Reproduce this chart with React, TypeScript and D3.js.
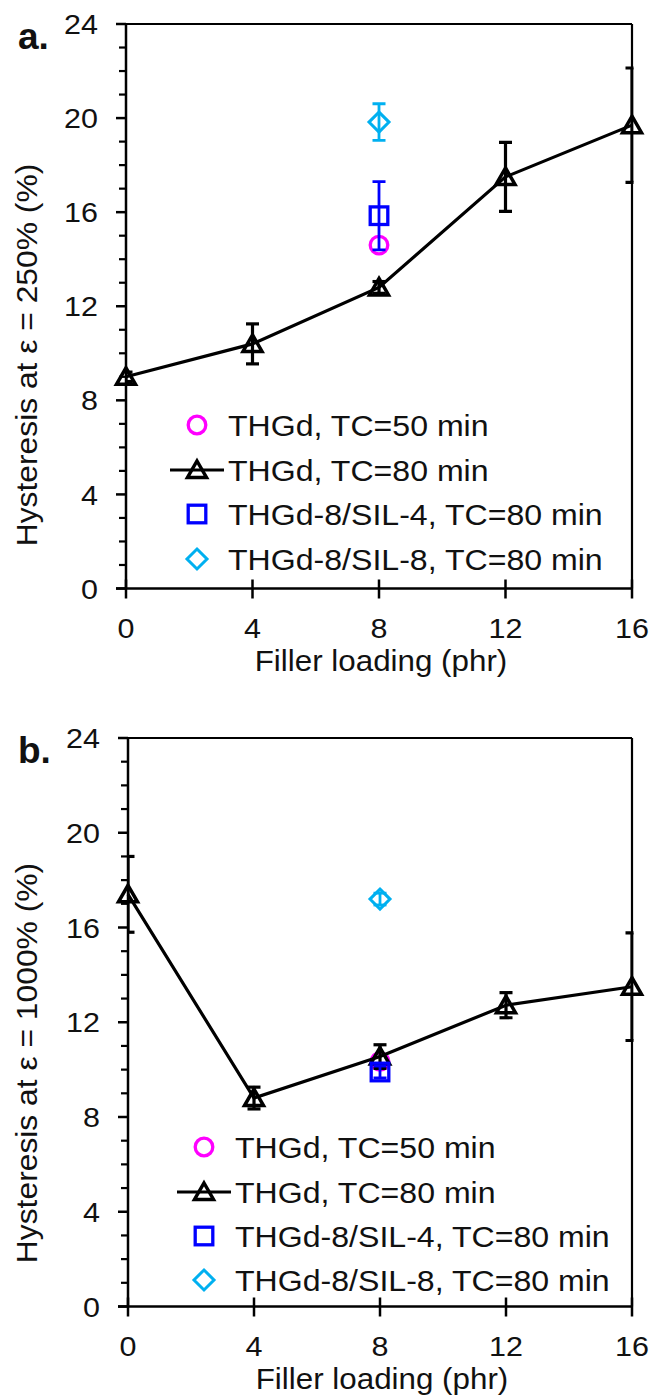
import React from "react";
import * as d3 from "d3";

// Filler loading (phr) on the x axis
const fillerLoading = [0, 4, 8, 12, 16];
const hybridLoading = [8];

// Panel a: hysteresis at strain 250 %
const h250Tc80 = [9.0, 10.4, 12.8, 17.5, 19.7];
const h250Tc80Err = [0.2, 0.85, 0.25, 1.47, 2.43];
const h250Tc50 = [14.6];
const h250Tc50Err = [0];
const h250Sil4 = [15.85];
const h250Sil4Err = [1.45];
const h250Sil8 = [19.83];
const h250Sil8Err = [0.78];

// Panel b: hysteresis at strain 1000 %
const h1000Tc80 = [17.4, 8.8, 10.55, 12.72, 13.5];
const h1000Tc80Err = [1.6, 0.46, 0.5, 0.53, 2.27];
const h1000Tc50 = [10.35];
const h1000Tc50Err = [0];
const h1000Sil4 = [9.9];
const h1000Sil4Err = [0.25];
const h1000Sil8 = [17.2];
const h1000Sil8Err = [0.25];

const xTicks = [0, 4, 8, 12, 16];
const yTicks = [0, 4, 8, 12, 16, 20, 24];
const yMinorTicks = d3.range(0, 25, 1).filter((v) => v % 4 !== 0);

const legendLabels = [
  "THGd, TC=50 min",
  "THGd, TC=80 min",
  "THGd-8/SIL-4, TC=80 min",
  "THGd-8/SIL-8, TC=80 min",
];

const MAGENTA = "#FF00FF";
const BLUE = "#0000FF";
const CYAN = "#00B0F0";
const BLACK = "#000000";
const FONT = "'Liberation Sans', Arial, Helvetica, sans-serif";

type Kind = "circle" | "triangle" | "square" | "diamond";

// Text with a slight horizontal stretch, anchored at (x, y)
function WideText({
  x,
  y,
  size,
  sx,
  anchor,
  rotate = 0,
  dy,
  bold,
  children,
}: {
  x: number;
  y: number;
  size: number;
  sx: number;
  anchor: "start" | "middle" | "end";
  rotate?: number;
  dy?: string;
  bold?: boolean;
  children: React.ReactNode;
}) {
  return (
    <text
      transform={`translate(${x},${y}) rotate(${rotate}) scale(${sx},1)`}
      dy={dy}
      textAnchor={anchor}
      fontFamily={FONT}
      fontSize={size}
      fontWeight={bold ? "bold" : "normal"}
      fill="#111"
    >
      {children}
    </text>
  );
}

function Marker({ kind, x, y, color }: { kind: Kind; x: number; y: number; color: string }) {
  const sw = 3.3;
  if (kind === "circle")
    return <circle cx={x} cy={y} r={8.8} fill="none" stroke={color} strokeWidth={sw} />;
  if (kind === "square")
    return <rect x={x - 8.8} y={y - 8.8} width={17.6} height={17.6} fill="none" stroke={color} strokeWidth={sw} />;
  if (kind === "diamond")
    return (
      <path
        d={`M${x},${y - 10} L${x + 10},${y} L${x},${y + 10} L${x - 10},${y} Z`}
        fill="none"
        stroke={color}
        strokeWidth={3}
      />
    );
  return (
    <path
      d={`M${x},${y - 9} L${x + 9.5},${y + 7.5} L${x - 9.5},${y + 7.5} Z`}
      fill="none"
      stroke={color}
      strokeWidth={3.5}
      strokeLinejoin="miter"
    />
  );
}

type Series = {
  xs: number[];
  ys: number[];
  err: number[];
  kind: Kind;
  color: string;
  line?: boolean;
};

type PanelProps = {
  id: string;
  letter: string;
  left: number;
  right: number;
  top: number;
  bottom: number;
  yLabel: string;
  yLabelCenter: number;
  series: Series[];
  legendMarkerX: number;
  legendTextX: number;
  legendRows: number[];
};

function Panel(p: PanelProps) {
  const x = d3.scaleLinear().domain([0, 16]).range([p.left, p.right]);
  const y = d3.scaleLinear().domain([0, 24]).range([p.bottom, p.top]);
  const line = d3
    .line<number>()
    .x((_, i) => x(fillerLoading[i]))
    .y((d) => y(d));
  const clipId = `clip-${p.id}`;
  const axisW = 2.5;

  return (
    <g>
      <defs>
        <clipPath id={clipId}>
          <rect x={p.left} y={p.top} width={p.right - p.left + 1.5} height={p.bottom - p.top} />
        </clipPath>
      </defs>

      {/* frame */}
      <line x1={p.left} y1={p.top} x2={p.right} y2={p.top} stroke={BLACK} strokeWidth={2.2} />
      <line x1={p.right} y1={p.top} x2={p.right} y2={p.bottom} stroke={BLACK} strokeWidth={2.2} />
      <line x1={p.left} y1={p.top} x2={p.left} y2={p.bottom} stroke={BLACK} strokeWidth={axisW} />
      <line x1={p.left - 10} y1={p.bottom} x2={p.right} y2={p.bottom} stroke={BLACK} strokeWidth={axisW} />

      {/* y ticks */}
      {yTicks.map((t) => (
        <g key={`yt${t}`}>
          <line x1={p.left - 10} x2={p.left} y1={y(t)} y2={y(t)} stroke={BLACK} strokeWidth={axisW} />
          <WideText x={p.left - 28} y={y(t)} dy="0.36em" size={28} sx={1.09} anchor="end">
            {t}
          </WideText>
        </g>
      ))}
      {yMinorTicks.map((t) => (
        <line key={`ym${t}`} x1={p.left - 7} x2={p.left} y1={y(t)} y2={y(t)} stroke={BLACK} strokeWidth={2.2} />
      ))}

      {/* x ticks */}
      {xTicks.map((t) => (
        <g key={`xt${t}`}>
          <line x1={x(t)} x2={x(t)} y1={p.bottom - 9} y2={p.bottom + 10} stroke={BLACK} strokeWidth={axisW} />
          <WideText x={x(t)} y={p.bottom + 49} size={28} sx={1.09} anchor="middle">
            {t}
          </WideText>
        </g>
      ))}

      <WideText x={(p.left + p.right) / 2 + 2} y={p.bottom + 82} size={30} sx={1.045} anchor="middle">
        Filler loading (phr)
      </WideText>

      <WideText x={37} y={p.yLabelCenter} size={30} sx={1.06} anchor="middle" rotate={-90}>
        {p.yLabel}
      </WideText>

      <WideText x={18} y={p.top + 25} size={37} sx={1} anchor="start" bold>
        {p.letter}
      </WideText>

      {/* series */}
      {p.series.map((s, si) => (
        <g key={`s${si}`}>
          <g clipPath={`url(#${clipId})`}>
            {s.xs.map((xv, i) =>
              s.err[i] > 0 ? (
                <g key={`e${i}`} stroke={s.color} strokeWidth={s.line ? 3.2 : 2.8}>
                  <line x1={x(xv)} x2={x(xv)} y1={y(s.ys[i] - s.err[i])} y2={y(s.ys[i] + s.err[i])} />
                  <line x1={x(xv) - 6.5} x2={x(xv) + 6.5} y1={y(s.ys[i] + s.err[i])} y2={y(s.ys[i] + s.err[i])} />
                  <line x1={x(xv) - 6.5} x2={x(xv) + 6.5} y1={y(s.ys[i] - s.err[i])} y2={y(s.ys[i] - s.err[i])} />
                </g>
              ) : null
            )}
          </g>
          {s.line ? (
            <path d={line(s.ys) ?? ""} fill="none" stroke={s.color} strokeWidth={3.2} />
          ) : null}
          {s.xs.map((xv, i) => (
            <Marker key={`m${i}`} kind={s.kind} x={x(xv)} y={y(s.ys[i])} color={s.color} />
          ))}
        </g>
      ))}

      {/* legend */}
      {legendLabels.map((label, i) => {
        const s = p.series[i];
        const ry = p.legendRows[i];
        return (
          <g key={`lg${i}`}>
            {s.line ? (
              <line
                x1={p.legendMarkerX - 27}
                x2={p.legendMarkerX + 27}
                y1={ry}
                y2={ry}
                stroke={s.color}
                strokeWidth={3.2}
              />
            ) : null}
            <Marker kind={s.kind} x={p.legendMarkerX} y={ry} color={s.color} />
            <WideText x={p.legendTextX} y={ry} dy="0.36em" size={30} sx={1.07} anchor="start">
              {label}
            </WideText>
          </g>
        );
      })}
    </g>
  );
}

export default function App() {
  const seriesA: Series[] = [
    { xs: hybridLoading, ys: h250Tc50, err: h250Tc50Err, kind: "circle", color: MAGENTA },
    { xs: fillerLoading, ys: h250Tc80, err: h250Tc80Err, kind: "triangle", color: BLACK, line: true },
    { xs: hybridLoading, ys: h250Sil4, err: h250Sil4Err, kind: "square", color: BLUE },
    { xs: hybridLoading, ys: h250Sil8, err: h250Sil8Err, kind: "diamond", color: CYAN },
  ];
  const seriesB: Series[] = [
    { xs: hybridLoading, ys: h1000Tc50, err: h1000Tc50Err, kind: "circle", color: MAGENTA },
    { xs: fillerLoading, ys: h1000Tc80, err: h1000Tc80Err, kind: "triangle", color: BLACK, line: true },
    { xs: hybridLoading, ys: h1000Sil4, err: h1000Sil4Err, kind: "square", color: BLUE },
    { xs: hybridLoading, ys: h1000Sil8, err: h1000Sil8Err, kind: "diamond", color: CYAN },
  ];

  return (
    <svg
      width={652}
      height={1397}
      viewBox="0 0 652 1397"
      style={{ position: "absolute", left: 0, top: 0, background: "#fff" }}
    >
      <rect width={652} height={1397} fill="#fff" />
      <Panel
        id="a"
        letter="a."
        left={126}
        right={632}
        top={24}
        bottom={588.5}
        yLabel="Hysteresis at ε = 250% (%)"
        yLabelCenter={355}
        series={seriesA}
        legendMarkerX={197}
        legendTextX={228}
        legendRows={[425, 470, 514, 559]}
      />
      <Panel
        id="b"
        letter="b."
        left={128}
        right={632}
        top={738}
        bottom={1306.5}
        yLabel="Hysteresis at ε = 1000% (%)"
        yLabelCenter={1063}
        series={seriesB}
        legendMarkerX={204}
        legendTextX={235}
        legendRows={[1147, 1192, 1236, 1280]}
      />
    </svg>
  );
}
